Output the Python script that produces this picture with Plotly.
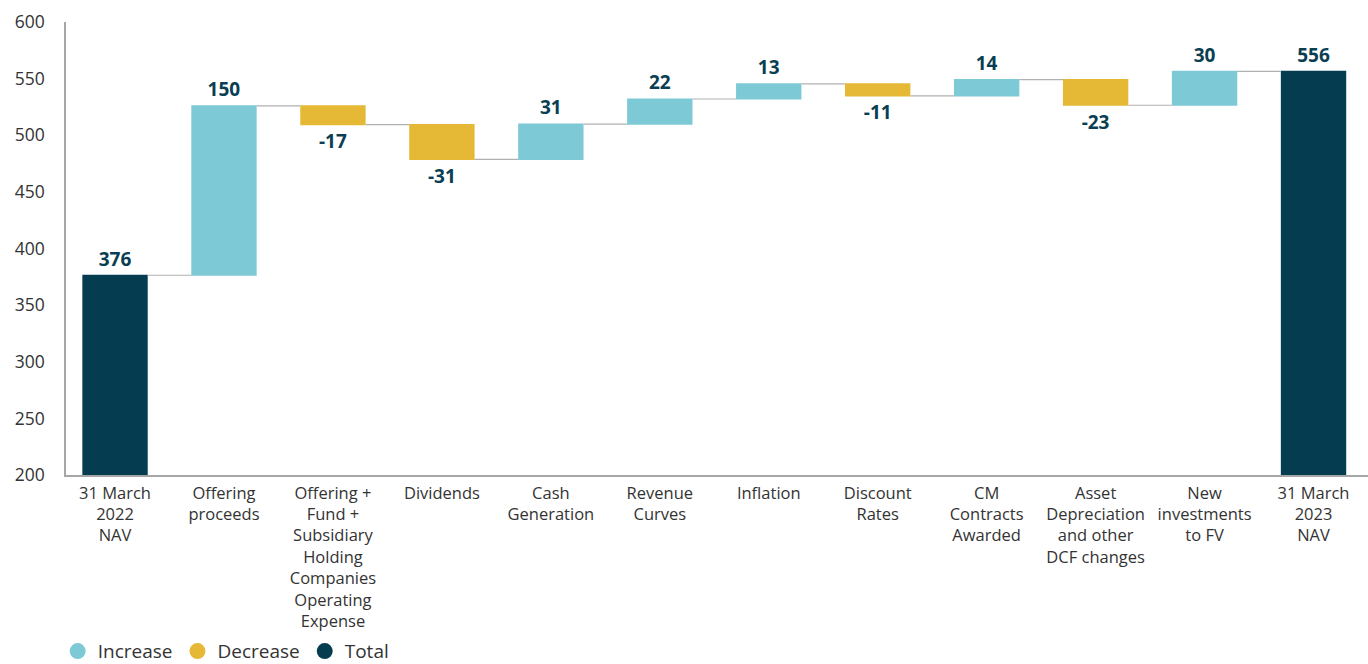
import plotly.graph_objects as go

categories = [
    "31 March<br>2022<br>NAV",
    "Offering<br>proceeds",
    "Offering +<br>Fund +<br>Subsidiary<br>Holding<br>Companies<br>Operating<br>Expense",
    "Dividends",
    "Cash<br>Generation",
    "Revenue<br>Curves",
    "Inflation",
    "Discount<br>Rates",
    "CM<br>Contracts<br>Awarded",
    "Asset<br>Depreciation<br>and other<br>DCF changes",
    "New<br>investments<br>to FV",
    "31 March<br>2023<br>NAV",
]
values = [376.4, 149.6, -16.7, -30.6, 31.2, 22.1, 13.4, -10.6, 14.3, -22.6, 29.9, 0]
measures = ["absolute"] + ["relative"] * 10 + ["total"]
labels = ["376", "150", "-17", "-31", "31", "22", "13", "-11", "14", "-23", "30", "556"]

c_inc = "#7DC9D6"
c_dec = "#E5B935"
c_tot = "#053C4F"
c_txt = "#0A3E52"
FONT = "Open Sans"

fig = go.Figure()
fig.add_trace(go.Waterfall(
    x=categories, y=values, measure=measures,
    text=labels, textposition="outside",
    textfont=dict(size=19, color=c_txt, family=FONT, weight="bold"),
    increasing=dict(marker=dict(color=c_inc)),
    decreasing=dict(marker=dict(color=c_dec)),
    totals=dict(marker=dict(color=c_tot)),
    connector=dict(line=dict(color="#B0B0B0", width=1.2)),
    width=0.6,
    showlegend=False,
    cliponaxis=False,
))
for name, col in [("Increase", c_inc), ("Decrease", c_dec), ("Total", c_tot)]:
    fig.add_trace(go.Scatter(x=[None], y=[None], mode="markers", name=name,
                             marker=dict(symbol="circle", size=19, color=col)))

fig.update_layout(
    width=1368, height=664,
    margin=dict(l=66, r=0, t=22, b=189, autoexpand=False),
    plot_bgcolor="white", paper_bgcolor="white",
    font=dict(family=FONT, size=16.5, color="#333333"),
    yaxis=dict(range=[200, 600], dtick=50, showgrid=False, zeroline=False,
               showline=True, linecolor="#A6A6A6", linewidth=1.5, automargin=False,
               ticks="", tickfont=dict(size=17.5, color="#333333"), ticklabelstandoff=16),
    xaxis=dict(showgrid=False, showline=True, linecolor="#A6A6A6", linewidth=1.5,
               automargin=False, ticks="", tickfont=dict(size=16.5, color="#333333"),
               tickangle=0, ticklabelstandoff=2, range=[-0.45, 11.5]),
    legend=dict(orientation="h", x=-0.0064, xanchor="left", y=-0.389, yanchor="middle",
                font=dict(size=19, color="#333333"), itemsizing="trace",
                itemwidth=30, tracegroupgap=0),
)
fig.write_html("out.html", config={"displayModeBar": False},
               post_script="document.body.style.margin='0';document.body.style.overflow='hidden';")
